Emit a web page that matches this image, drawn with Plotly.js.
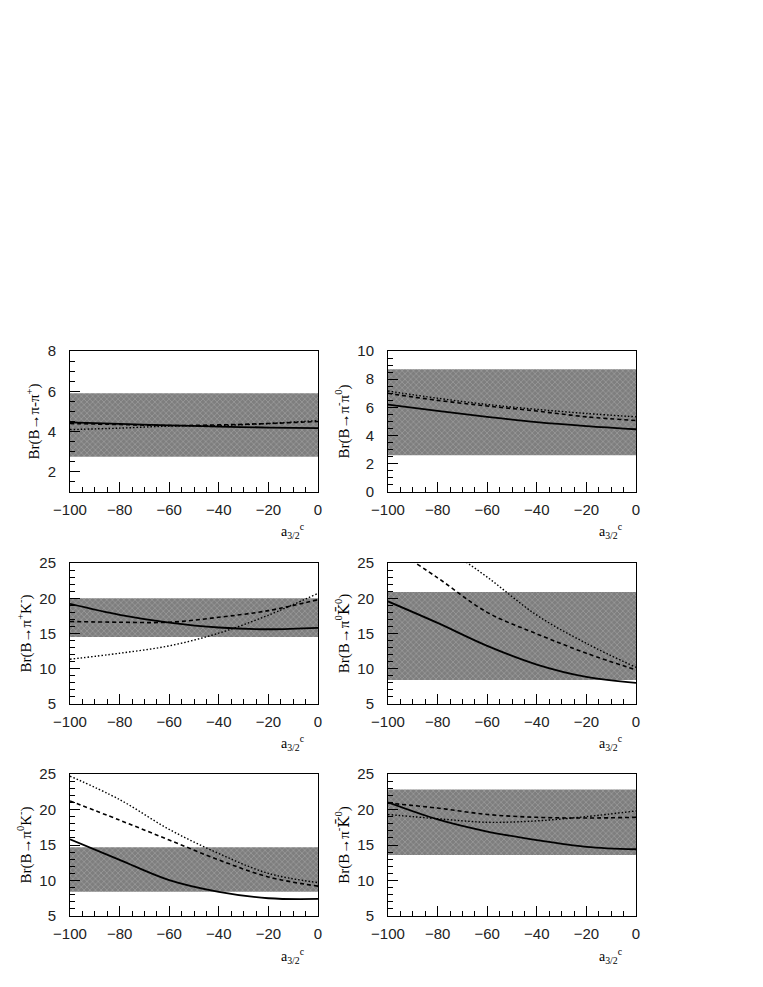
<!DOCTYPE html>
<html>
<head>
<meta charset="utf-8">
<script src="https://cdn.plot.ly/plotly-3.0.1.min.js"></script>
<style>
  html, body { margin: 0; padding: 0; background: #fff; }
  #chart { width: 763px; height: 987px; }
</style>
</head>
<body>
<div id="chart"></div>
<script>
// a_{3/2}^c values where the curves were read
const xVals = [-100, -80, -60, -40, -20, 0];

// panel titles (y axes)
const kbar = "<span style='font-family:DejaVu Serif'>K̄</span>";
const yTitles = [
  "Br(B→π-π<sup>+</sup>)",
  "Br(B→π<sup>-</sup>π<sup>0</sup>)",
  "Br(B→π<sup>+</sup>K<sup>-</sup>)",
  "Br(B→π<sup>0</sup>" + kbar + "<sup>0</sup>)",
  "Br(B→π<sup>0</sup>K<sup>-</sup>)",
  "Br(B→π<sup>-</sup>" + kbar + "<sup>0</sup>)"
];

// experimental bands [low, high]
const bandLow = [2.75, 2.6, 14.5, 8.4, 8.4, 13.6];
const bandHigh = [5.9, 8.7, 20.0, 20.9, 14.7, 22.8];

// solid curves
const solid = [
  [4.46, 4.38, 4.31, 4.25, 4.2, 4.17],
  [6.2, 5.75, 5.33, 4.95, 4.67, 4.45],
  [19.2, 17.65, 16.55, 15.85, 15.6, 15.8],
  [19.55, 16.5, 13.25, 10.6, 8.85, 8.0],
  [15.8, 12.9, 10.05, 8.4, 7.5, 7.4],
  [21.0, 18.6, 16.9, 15.7, 14.75, 14.4]
];

// dashed curves
const dashed = [
  [4.4, 4.35, 4.3, 4.33, 4.4, 4.5],
  [7.0, 6.5, 6.1, 5.74, 5.33, 5.07],
  [16.7, 16.6, 16.6, 17.3, 18.25, 19.8],
  [27.6, 22.9, 18.0, 14.95, 12.2, 9.85],
  [21.2, 18.5, 15.7, 12.9, 10.5, 9.2],
  [20.9, 20.2, 19.3, 18.9, 18.8, 18.9]
];

// dotted curves
const dotted = [
  [4.1, 4.17, 4.27, 4.3, 4.4, 4.55],
  [7.16, 6.65, 6.21, 5.86, 5.57, 5.33],
  [11.35, 12.2, 13.25, 15.05, 17.6, 20.7],
  [33.5, 28.0, 23.0, 17.6, 13.6, 10.2],
  [24.7, 21.4, 17.2, 13.8, 11.0, 9.7],
  [19.3, 18.7, 18.2, 18.4, 19.0, 19.8]
];

const yRanges = [[1, 8], [0, 10], [5, 25], [5, 25], [5, 25], [5, 25]];
const yMajor = [2, 2, 5, 5, 5, 5];
const yMinor = [0.5, 0.5, 1, 1, 1, 1];

// panel placement in pixels (left, right, top, bottom)
const W = 763, H = 987;
const cols = [[70, 318], [388, 636]];
const rows = [[351, 492], [563, 704], [774, 916]];

const data = [];
const layout = {
  width: W, height: H,
  margin: {l: 0, r: 0, t: 0, b: 0},
  paper_bgcolor: "#fff",
  plot_bgcolor: "#fff",
  showlegend: false,
  annotations: []
};

for (let i = 0; i < 6; i++) {
  const n = i === 0 ? "" : String(i + 1);
  const xa = "x" + n, ya = "y" + n;
  const c = cols[i % 2], r = rows[Math.floor(i / 2)];

  data.push({
    x: [xVals[0], xVals[xVals.length - 1], xVals[xVals.length - 1], xVals[0]],
    y: [bandLow[i], bandLow[i], bandHigh[i], bandHigh[i]],
    xaxis: xa, yaxis: ya,
    type: "scatter", mode: "none", fill: "toself",
    fillcolor: "#7e7e7e",
    fillpattern: {shape: "x", bgcolor: "#7e7e7e", fgcolor: "#b4b4b4", size: 4, solidity: 0.2},
    hoverinfo: "skip"
  });
  const styles = [["solid", solid, 1.8], ["4px,3px", dashed, 1.6], ["1.5px,2px", dotted, 1.4]];
  styles.forEach(([dash, arr, w]) => {
    data.push({
      x: xVals, y: arr[i], xaxis: xa, yaxis: ya,
      type: "scatter", mode: "lines",
      line: {color: "#000", width: w, dash: dash, shape: "spline", smoothing: 1}
    });
  });

  const common = {
    showline: true, mirror: true, linecolor: "#000", linewidth: 1,
    ticks: "inside", tickcolor: "#000", ticklen: 10, tickwidth: 1,
    showgrid: false, zeroline: false,
    tickfont: {family: "Liberation Sans, Arial, sans-serif", size: 15, color: "#222"}
  };

  layout["xaxis" + n] = Object.assign({}, common, {
    domain: [c[0] / W, c[1] / W],
    anchor: ya,
    range: [-100, 0],
    tickmode: "linear", tick0: -100, dtick: 20,
    ticklabelstandoff: 4,
    minor: {ticks: "inside", ticklen: 5, dtick: 5, tick0: 0, tickcolor: "#000", showgrid: false}
  });
  layout["yaxis" + n] = Object.assign({}, common, {
    domain: [1 - r[1] / H, 1 - r[0] / H],
    anchor: xa,
    range: yRanges[i],
    tickmode: "linear", tick0: 0, dtick: yMajor[i],
    ticklabelstandoff: 10,
    minor: {ticks: "inside", ticklen: 5, dtick: yMinor[i], tick0: 0, tickcolor: "#000", showgrid: false},
    title: {
      text: yTitles[i],
      font: {family: "Liberation Serif, Times New Roman, serif", size: 15, color: "#000"},
      standoff: 4
    }
  });

  layout.annotations.push({
    xref: xa + " domain", yref: ya + " domain",
    x: 0.9, y: -0.28, xanchor: "center", yanchor: "middle",
    text: "a<sub>3/2</sub><sup>c</sup>", showarrow: false,
    font: {family: "Liberation Serif, Times New Roman, serif", size: 14, color: "#000"}
  });
}

Plotly.newPlot("chart", data, layout, {staticPlot: true});
</script>
</body>
</html>
